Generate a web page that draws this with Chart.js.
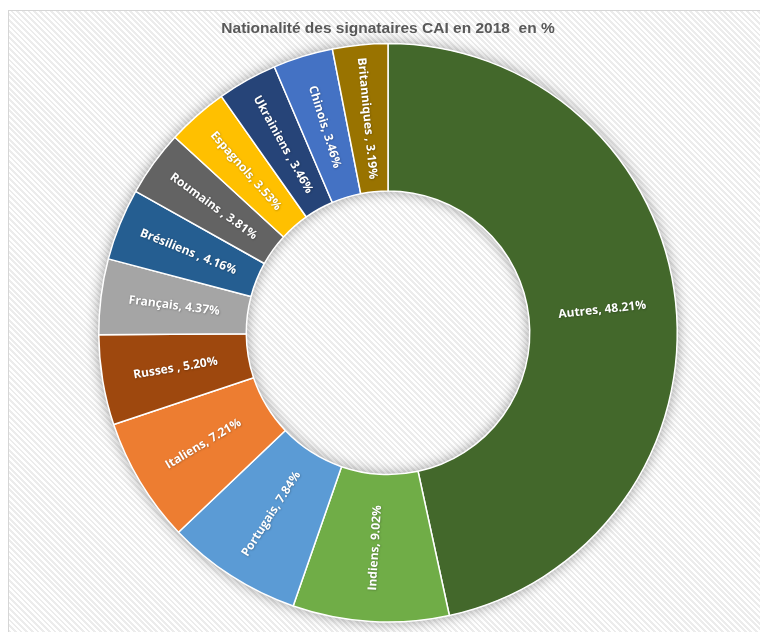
<!DOCTYPE html>
<html lang="fr">
<head>
<meta charset="utf-8">
<title>Nationalité des signataires CAI en 2018</title>
<script src="https://cdn.jsdelivr.net/npm/chart.js@4/dist/chart.umd.min.js"></script>
<style>
    html, body { margin: 0; padding: 0; background: #fff; }
    body { position: relative; width: 760px; height: 632px; overflow: hidden; }
    /* cadre rayé derrière le graphique */
    .frame {
        position: absolute;
        left: 8px; top: 10px; right: -4px; bottom: -4px;
        border: 1px solid #d6d6d6;
        background: repeating-linear-gradient(45deg, #ffffff 0px, #ffffff 2px, #ececec 2px, #ececec 4px);
    }
    #chart { position: absolute; left: 0; top: 0; }
</style>
</head>
<body>
<div class="frame"></div>
<canvas id="chart" width="760" height="632"></canvas>
<script>
// Nationalités (l'espace final fait partie du libellé d'origine)
const nationalites = ['Autres', 'Indiens', 'Portugais', 'Italiens', 'Russes ', 'Français',
    'Brésiliens ', 'Roumains ', 'Espagnols', 'Ukrainiens ', 'Chinois', 'Britanniques '];
const pourcentages = [48.21, 9.02, 7.84, 7.21, 5.20, 4.37, 4.16, 3.81, 3.53, 3.46, 3.46, 3.19];
const couleurs = ['#43682b', '#70ad47', '#5b9bd5', '#ed7d31', '#9e480e', '#a5a5a5',
    '#255e91', '#636363', '#ffc000', '#264478', '#4472c4', '#997300'];

// Ombre douce sous l'anneau
const ringShadow = {
    id: 'ringShadow',
    beforeDatasetsDraw(chart) {
        const arc = chart.getDatasetMeta(0).data[0];
        if (!arc) return;
        const ctx = chart.ctx;
        ctx.save();
        ctx.beginPath();
        ctx.arc(arc.x, arc.y, arc.outerRadius, 0, Math.PI * 2);
        ctx.arc(arc.x, arc.y, arc.innerRadius, 0, Math.PI * 2, true);
        ctx.closePath();
        ctx.shadowColor = 'rgba(0, 0, 0, 0.4)';
        ctx.shadowBlur = 14;
        ctx.fillStyle = '#ffffff';
        ctx.fill();
        ctx.restore();
    }
};

// Étiquettes blanches orientées selon le rayon de chaque part
const ringLabels = {
    id: 'ringLabels',
    afterDatasetsDraw(chart) {
        const ctx = chart.ctx;
        const meta = chart.getDatasetMeta(0);
        ctx.save();
        ctx.font = '700 12px "Open Sans"';
        ctx.fillStyle = '#ffffff';
        ctx.textAlign = 'center';
        ctx.textBaseline = 'middle';
        ctx.shadowColor = 'rgba(0, 0, 0, 0.35)';
        ctx.shadowBlur = 2;
        ctx.shadowOffsetX = 0.5;
        ctx.shadowOffsetY = 0.5;
        meta.data.forEach((arc, i) => {
            const p = arc.getCenterPoint();
            let angle = (arc.startAngle + arc.endAngle) / 2;
            // garder le texte lisible
            while (angle > Math.PI / 2) angle -= Math.PI;
            while (angle < -Math.PI / 2) angle += Math.PI;
            const texte = nationalites[i] + ', ' + pourcentages[i].toFixed(2) + '%';
            ctx.save();
            ctx.translate(p.x, p.y);
            ctx.rotate(angle);
            ctx.fillText(texte, 0, 0);
            ctx.restore();
        });
        ctx.restore();
    }
};

new Chart(document.getElementById('chart'), {
    type: 'doughnut',
    data: {
        labels: nationalites,
        datasets: [{
            data: pourcentages,
            backgroundColor: couleurs,
            borderColor: '#ffffff',
            borderWidth: 1.5
        }]
    },
    options: {
        responsive: false,
        animation: false,
        cutout: '49%',
        layout: {
            padding: { left: 98, right: 82, top: 0, bottom: 9 }
        },
        plugins: {
            legend: { display: false },
            tooltip: { enabled: false },
            title: {
                display: true,
                text: 'Nationalité des signataires CAI en 2018  en %',
                color: '#595959',
                font: { family: '"Liberation Sans", Arial, sans-serif', size: 15.5, weight: 'bold' },
                padding: { top: 19, bottom: 5 }
            }
        }
    },
    plugins: [ringShadow, ringLabels]
});
</script>
</body>
</html>
